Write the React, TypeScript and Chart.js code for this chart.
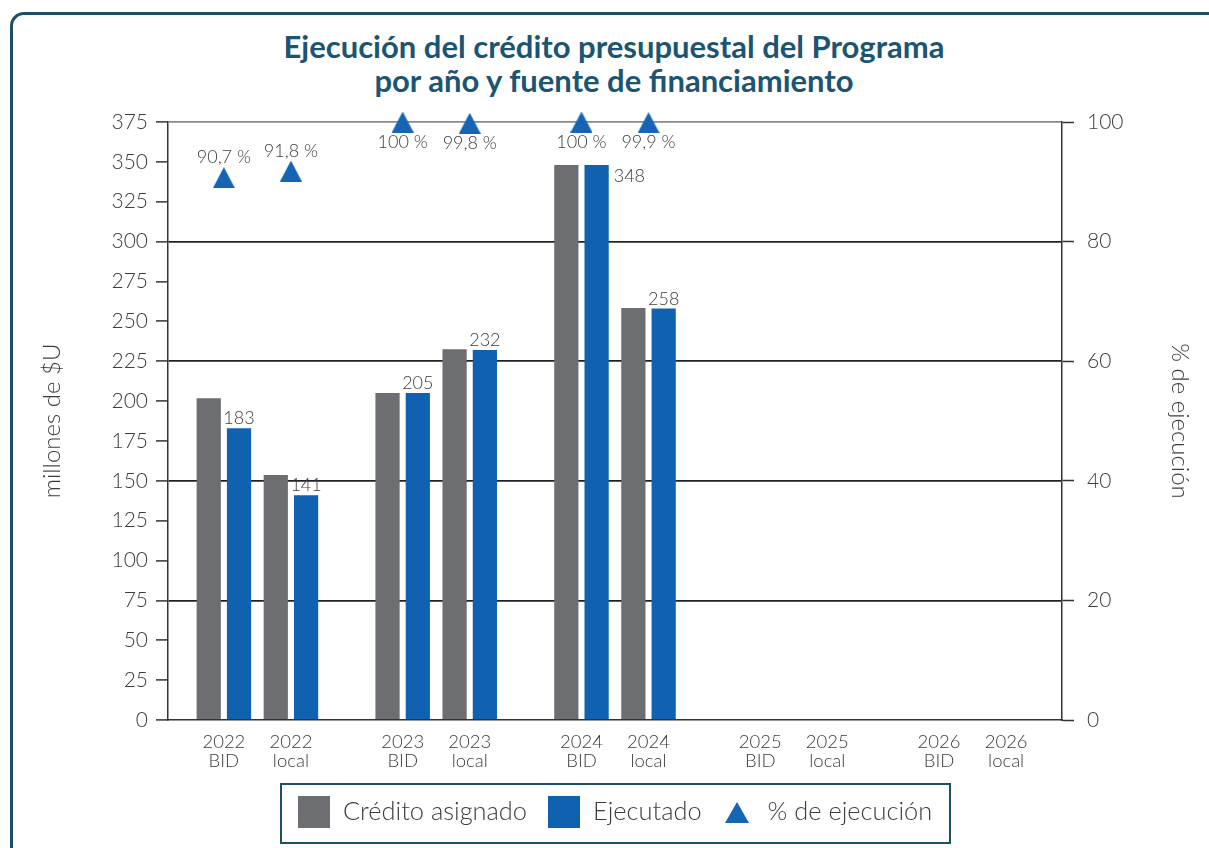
import React, { useEffect, useRef } from "react";
import { Chart, registerables } from "chart.js";

Chart.register(...registerables);

const years = ["2022", "2023", "2024", "2025", "2026"];
const sources = ["BID", "local"];
// one value per year/source pair, in order: 2022 BID, 2022 local, 2023 BID, ...
const creditoAsignado = [201.8, 153.6, 205, 232.5, 348, 258.3, null, null, null, null];
const ejecutado = [183, 141, 205, 232, 348, 258, null, null, null, null];
const pctEjecucion = [90.7, 91.8, 100, 99.8, 100, 99.9, null, null, null, null];
const yTicksLeft = { min: 0, max: 375, step: 25 };
const yTicksRight = { min: 0, max: 100, step: 20 };

const TITLE_LINES = ["Ejecución del crédito presupuestal del Programa", "por año y fuente de financiamiento"];
const LEGEND_LABELS = ["Crédito asignado", "Ejecutado", "% de ejecución"];

const GRAY = "#6d6e71";
const BLUE = "#1062b0";
const TRI = "#1565b4";
const TEAL = "#1d5068";
const TEXT = "#3c3c3c";
const FONT = "Lato, 'Noto Sans', sans-serif";

// layout of slots along the category axis (8 slots per year)
const SLOTS_PER_YEAR = 8;
const SLOT_OF_SOURCE = [2, 5];
const nSlots = years.length * SLOTS_PER_YEAR;

function slotFor(i: number) {
  const y = Math.floor(i / sources.length);
  const s = i % sources.length;
  return y * SLOTS_PER_YEAR + SLOT_OF_SOURCE[s];
}

function expand(values: (number | null)[]) {
  const out: (number | null)[] = new Array(nSlots).fill(null);
  values.forEach((v, i) => {
    out[slotFor(i)] = v;
  });
  return out;
}

function buildLabels() {
  const out: (string | string[])[] = new Array(nSlots).fill("");
  years.forEach((y, yi) => {
    sources.forEach((s, si) => {
      out[slotFor(yi * sources.length + si)] = [y, s];
    });
  });
  return out;
}

function triangleImage(w: number, h: number) {
  const c = document.createElement("canvas");
  c.width = w;
  c.height = h;
  const ctx = c.getContext("2d")!;
  ctx.fillStyle = TRI;
  ctx.beginPath();
  ctx.moveTo(w / 2, 0);
  ctx.lineTo(w, h);
  ctx.lineTo(0, h);
  ctx.closePath();
  ctx.fill();
  return c;
}

const labelPlugin = {
  id: "valueLabels",
  afterDatasetsDraw(chart: any) {
    const ctx = chart.ctx;
    const area = chart.chartArea;
    ctx.save();
    ctx.font = `300 18px ${FONT}`;
    ctx.fillStyle = TEXT;
    // executed values
    const metaE = chart.getDatasetMeta(1);
    metaE.data.forEach((el: any, i: number) => {
      const v = chart.data.datasets[1].data[i];
      if (v == null) return;
      if (el.y - area.top < 70) {
        ctx.textAlign = "left";
        ctx.textBaseline = "middle";
        ctx.fillText(String(v), el.x + el.width / 2 + 5, el.y + 11);
      } else {
        ctx.textAlign = "center";
        ctx.textBaseline = "alphabetic";
        ctx.fillText(String(v), el.x, el.y - 4);
      }
    });
    // percentages
    const metaP = chart.getDatasetMeta(2);
    metaP.data.forEach((el: any, i: number) => {
      const v = chart.data.datasets[2].data[i];
      if (v == null) return;
      const txt = String(v).replace(".", ",") + " %";
      ctx.textAlign = "center";
      ctx.textBaseline = "middle";
      if (v >= 99) ctx.fillText(txt, el.x, el.y + 20);
      else ctx.fillText(txt, el.x, el.y - 20);
    });
    ctx.restore();
  },
};

export default function App() {
  const ref = useRef<HTMLCanvasElement>(null);

  useEffect(() => {
    if (!ref.current) return;
    const tri = triangleImage(22, 21);
    const chart = new Chart(ref.current, {
      type: "bar",
      data: {
        labels: buildLabels(),
        datasets: [
          {
            type: "bar",
            label: LEGEND_LABELS[0],
            data: expand(creditoAsignado),
            backgroundColor: GRAY,
            categoryPercentage: 2.71,
            barPercentage: 0.8,
            yAxisID: "y",
            order: 2,
          },
          {
            type: "bar",
            label: LEGEND_LABELS[1],
            data: expand(ejecutado),
            backgroundColor: BLUE,
            categoryPercentage: 2.71,
            barPercentage: 0.8,
            yAxisID: "y",
            order: 2,
          },
          {
            type: "line",
            label: LEGEND_LABELS[2],
            data: expand(pctEjecucion),
            showLine: false,
            pointStyle: tri as any,
            pointRadius: 11,
            backgroundColor: TRI,
            borderColor: TRI,
            yAxisID: "y1",
            clip: false as any,
            order: 1,
          },
        ],
      },
      options: {
        animation: false,
        responsive: false,
        layout: { padding: { top: 122, left: 0, right: 0, bottom: 0 } },
        plugins: {
          legend: { display: false },
          tooltip: { enabled: false },
          title: { display: false },
        },
        scales: {
          x: {
            type: "category",
            grid: { display: false },
            border: { display: true, color: "#333", width: 1.5 },
            ticks: {
              autoSkip: false,
              maxRotation: 0,
              minRotation: 0,
              padding: 4,
              color: TEXT,
              font: { family: FONT, size: 18.5, weight: "300" as any, lineHeight: 1.05 },
            },
            afterFit: (s: any) => {
              s.height = 128;
            },
          },
          y: {
            position: "left",
            min: yTicksLeft.min,
            max: yTicksLeft.max,
            ticks: {
              stepSize: yTicksLeft.step,
              padding: 8,
              color: TEXT,
              font: { family: FONT, size: 21, weight: "300" as any },
            },
            grid: {
              color: (c: any) => {
                const v = c.tick && c.tick.value;
                if (v === yTicksLeft.max) return "#8a8a8a";
                if (v > 0 && v % 75 === 0) return "#222";
                return "rgba(0,0,0,0)";
              },
              lineWidth: 1.8,
              drawTicks: true,
              tickLength: 12,
              tickColor: "#333",
              tickWidth: 1.5,
            },
            border: { display: true, color: "#333", width: 1.5 },
            title: {
              display: true,
              text: "millones de $U",
              color: TEXT,
              font: { family: FONT, size: 24, weight: "300" as any, lineHeight: 1.2 },
              padding: { top: 37.6, bottom: 0 },
            },
            afterFit: (s: any) => {
              s.width = 168;
            },
          },
          y1: {
            position: "right",
            min: yTicksRight.min,
            max: yTicksRight.max,
            ticks: {
              stepSize: yTicksRight.step,
              padding: 13,
              color: TEXT,
              font: { family: FONT, size: 21, weight: "300" as any },
            },
            grid: {
              drawOnChartArea: false,
              drawTicks: true,
              tickLength: 12,
              tickColor: "#333",
              tickWidth: 1.5,
            },
            border: { display: true, color: "#333", width: 1.5 },
            title: {
              display: true,
              text: "% de ejecución",
              color: TEXT,
              font: { family: FONT, size: 24, weight: "300" as any, lineHeight: 1.2 },
              padding: { top: 14.6, bottom: 0 },
            },
            afterFit: (s: any) => {
              s.width = 147;
            },
          },
        },
      },
      plugins: [labelPlugin],
    });
    return () => chart.destroy();
  }, []);

  const legendText: React.CSSProperties = {
    fontFamily: FONT,
    fontWeight: 300,
    fontSize: 25.4,
    color: TEXT,
    whiteSpace: "nowrap",
    position: "relative",
    top: -2,
  };

  return (
    <div style={{ position: "fixed", inset: 0, overflow: "hidden", background: "#fff" }}>
      <div
        style={{
          position: "absolute",
          left: 10,
          top: 12,
          width: 1260,
          height: 900,
          border: `3px solid ${TEAL}`,
          borderRadius: 14,
          boxSizing: "border-box",
        }}
      />
      <div
        style={{
          position: "absolute",
          left: 0,
          top: 29,
          width: 1228,
          textAlign: "center",
          fontFamily: FONT,
          fontWeight: 700,
          fontSize: 31,
          lineHeight: "34px",
          color: "#1b5572",
        }}
      >
        {TITLE_LINES.map((t) => (
          <div key={t}>{t}</div>
        ))}
      </div>
      <canvas ref={ref} width={1209} height={848} style={{ position: "absolute", left: 0, top: 0 }} />
      <div
        style={{
          position: "absolute",
          left: 280,
          top: 783,
          width: 671,
          height: 61,
          boxSizing: "border-box",
          border: `2px solid ${TEAL}`,
          display: "flex",
          alignItems: "center",
          paddingLeft: 16,
          paddingBottom: 3,
        }}
      >
        <div style={{ width: 32, height: 32, background: GRAY }} />
        <span style={{ ...legendText, marginLeft: 13 }}>{LEGEND_LABELS[0]}</span>
        <div style={{ width: 32, height: 32, background: BLUE, marginLeft: 21 }} />
        <span style={{ ...legendText, marginLeft: 13 }}>{LEGEND_LABELS[1]}</span>
        <svg width={24} height={21} style={{ marginLeft: 23 }}>
          <polygon points="12,0 24,21 0,21" fill={TRI} />
        </svg>
        <span style={{ ...legendText, marginLeft: 19 }}>{LEGEND_LABELS[2]}</span>
      </div>
    </div>
  );
}
